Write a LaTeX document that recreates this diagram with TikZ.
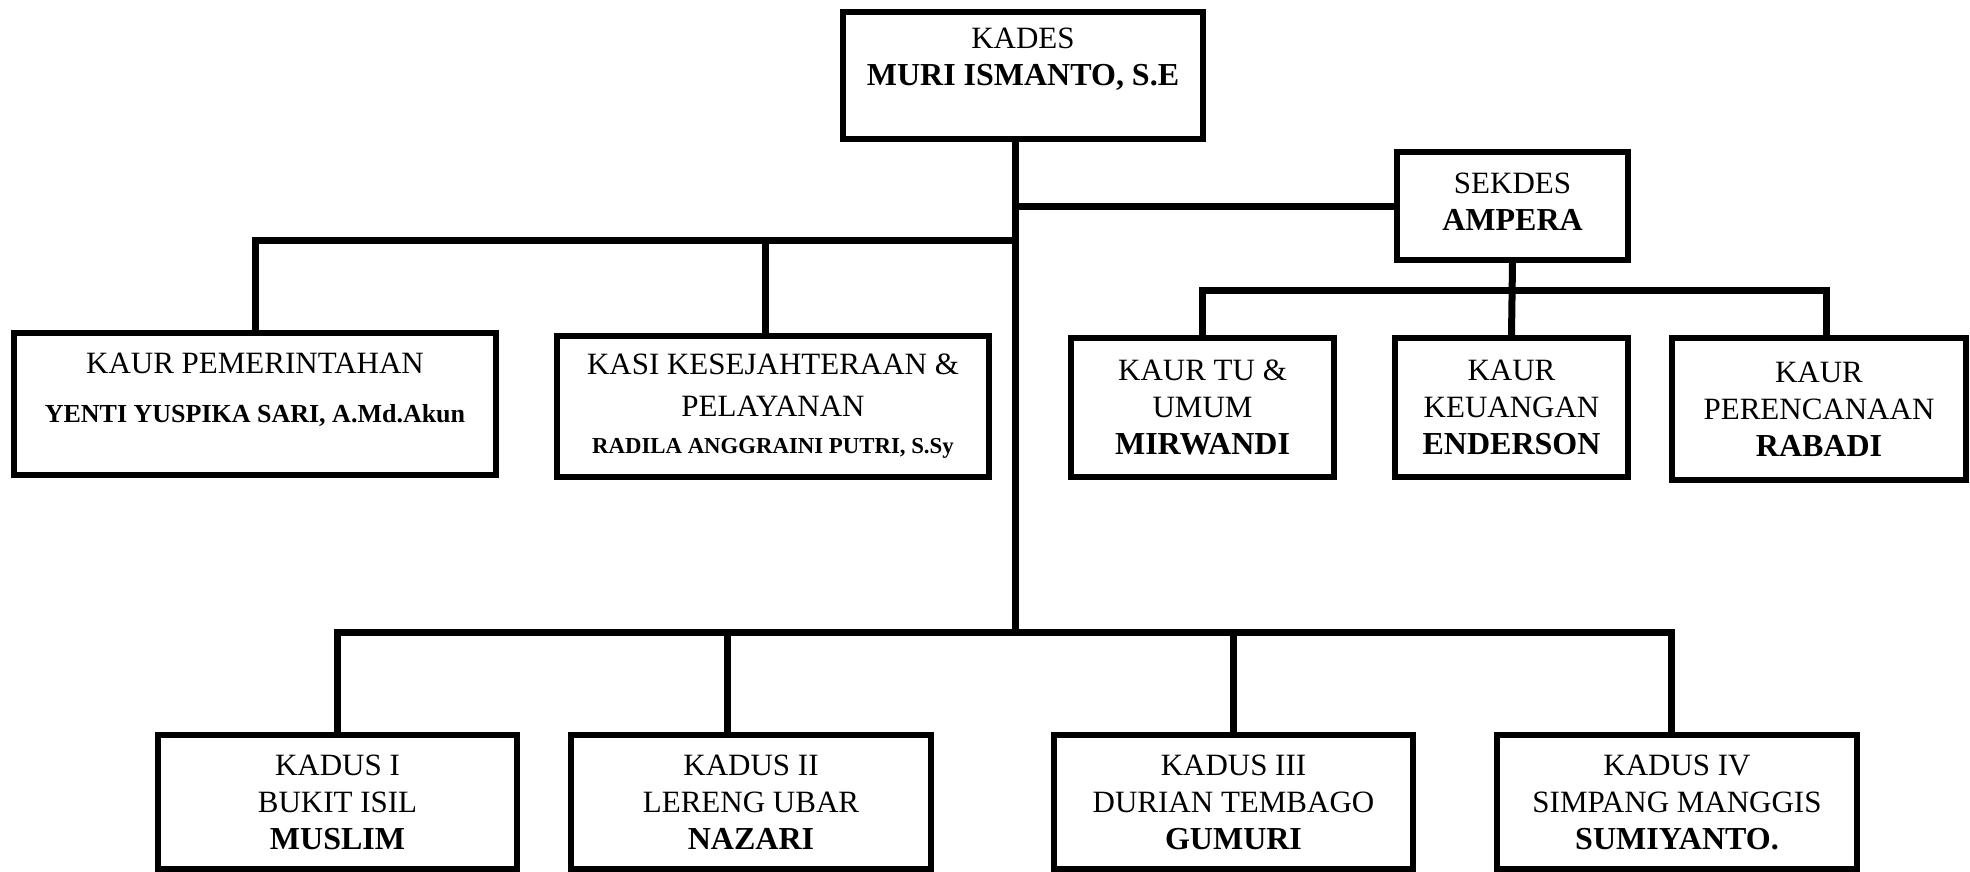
\documentclass[tikz,border=0pt]{standalone}
\usepackage{fontspec}
\setmainfont{Liberation Serif}
\usetikzlibrary{fit}
\definecolor{orgline}{HTML}{000000}

\begin{document}
\begin{tikzpicture}[x=0.5pt, y=-0.5pt,
        box/.style={draw=orgline, line width=3pt, fill=white, inner sep=0pt},
        txt/.style={align=center, inner sep=0pt, font=\fontsize{15.5}{18.5}\selectfont},
        link/.style={draw=orgline, line width=3.5pt}]
      \useasboundingbox (0,0) rectangle (1970,872);

      % kepala desa and sekretaris
      \node[box, fit={(843,12) (1203,139)}] (kades) {};
      \node[box, fit={(1397,152) (1628,260)}] (sekdes) {};

      % kaur / kasi row
      \node[box, fit={(14,333) (496,475)}] (pem) {};
      \node[box, fit={(557,336) (989,477)}] (kasi) {};
      \node[box, fit={(1071,338) (1334,477)}] (kaurtu) {};
      \node[box, fit={(1395,338) (1628,477)}] (keu) {};
      \node[box, fit={(1672,338) (1966,480)}] (ren) {};

      % kepala dusun row
      \node[box, fit={(158,735) (517,869)}] (kadus1) {};
      \node[box, fit={(571,735) (931,869)}] (kadus2) {};
      \node[box, fit={(1054,735) (1413,869)}] (kadus3) {};
      \node[box, fit={(1497,735) (1857,869)}] (kadus4) {};

      % labels
      \node[txt] (kades-lbl) at ([yshift=8pt]kades.center)
        {KADES\\\textbf{\fontsize{16}{18.5}\selectfont MURI ISMANTO, S.E}};
      \node[txt] (sekdes-lbl) at ([yshift=2pt]sekdes.center)
        {SEKDES\\\textbf{\fontsize{16}{18.5}\selectfont AMPERA}};
      \node[txt] (pem-lbl) at ([yshift=7pt]pem.center)
        {KAUR PEMERINTAHAN\\[6pt]\textbf{\fontsize{13}{15}\selectfont YENTI YUSPIKA SARI, A.Md.Akun}};
      \node[txt] (kasi-lbl) at (kasi.center)
        {KASI KESEJAHTERAAN \&\\[2.5pt]PELAYANAN\\\textbf{\fontsize{11.4}{13}\selectfont RADILA ANGGRAINI PUTRI, S.Sy}};
      \node[txt] (kaurtu-lbl) at (kaurtu.center)
        {KAUR TU \&\\UMUM\\\textbf{\fontsize{16}{18.5}\selectfont MIRWANDI}};
      \node[txt] (keu-lbl) at (keu.center)
        {KAUR\\KEUANGAN\\\textbf{\fontsize{16}{18.5}\selectfont ENDERSON}};
      \node[txt] (ren-lbl) at (ren.center)
        {KAUR\\PERENCANAAN\\\textbf{\fontsize{16}{18.5}\selectfont RABADI}};
      \node[txt] (kadus1-lbl) at (kadus1.center)
        {KADUS I\\BUKIT ISIL\\\textbf{\fontsize{16}{18.5}\selectfont MUSLIM}};
      \node[txt] (kadus2-lbl) at (kadus2.center)
        {KADUS II\\LERENG UBAR\\\textbf{\fontsize{16}{18.5}\selectfont NAZARI}};
      \node[txt] (kadus3-lbl) at (kadus3.center)
        {KADUS III\\DURIAN TEMBAGO\\\textbf{\fontsize{16}{18.5}\selectfont GUMURI}};
      \node[txt] (kadus4-lbl) at (kadus4.center)
        {KADUS IV\\SIMPANG MANGGIS\\\textbf{\fontsize{16}{18.5}\selectfont SUMIYANTO.}};

      % connectors
      \coordinate (trunk) at (1015,635);
      \coordinate (barL) at (1015,240);
      \draw[link] (kades.south -| trunk) -- (trunk);
      \draw[link] (sekdes.west) -- (sekdes.west -| trunk);
      \draw[link] (pem.north) |- (barL);
      \draw[link] ([xshift=-4pt]kasi.north) -- ([xshift=-4pt]kasi.north |- barL);
      \draw[link] (sekdes.south) -- (keu.north);
      \draw[link] (kaurtu.north) -- ++(0,-45) -| ([xshift=3.5pt]ren.north);
      \draw[link] (kadus1.north) -- ++(0,-100) -| ([xshift=-3pt]kadus4.north);
      \draw[link] ([xshift=-12pt]kadus2.north) -- ++(0,-100);
      \draw[link] (kadus3.north) -- ++(0,-100);
    \end{tikzpicture}
\end{document}
